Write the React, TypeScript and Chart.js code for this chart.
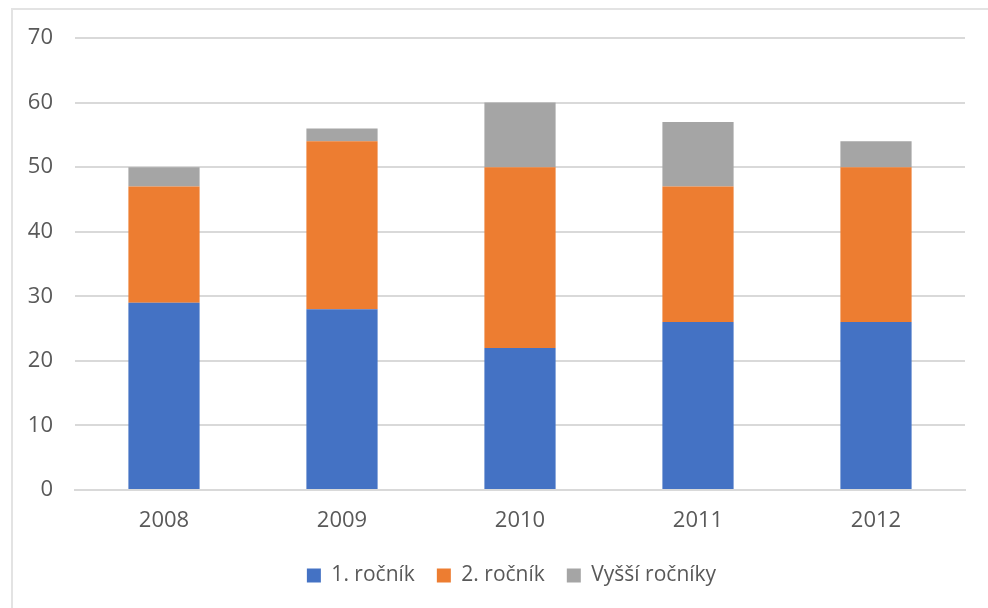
import React, { useEffect, useRef } from "react";
import { Chart, registerables } from "chart.js";

Chart.register(...registerables);

const categories = ["2008", "2009", "2010", "2011", "2012"];
const firstYear = [29, 28, 22, 26, 26];
const secondYear = [18, 26, 28, 21, 24];
const higherYears = [3, 2, 10, 10, 4];
const seriesNames = ["1. ročník", "2. ročník", "Vyšší ročníky"];
const seriesColors = ["#4472C4", "#ED7D31", "#A5A5A5"];

const FONT = "'Open Sans', 'Noto Sans', sans-serif";
const TEXT = "#595959";

const legendShift = {
  id: "legendShift",
  afterLayout(chart: any) {
    if (chart.legend) {
      chart.legend.left += 23;
      chart.legend.right += 23;
    }
  },
};

export default function App() {
  const ref = useRef<HTMLCanvasElement | null>(null);

  useEffect(() => {
    document.body.style.margin = "0";
    const canvas = ref.current;
    if (!canvas) return;
    const chart = new Chart(canvas, {
      type: "bar",
      data: {
        labels: categories,
        datasets: [firstYear, secondYear, higherYears].map((d, i) => ({
          label: seriesNames[i],
          data: d,
          backgroundColor: seriesColors[i],
          borderWidth: 0,
          categoryPercentage: 1,
          barPercentage: 0.4,
        })),
      },
      plugins: [legendShift],
      options: {
        animation: false,
        responsive: false,
        maintainAspectRatio: false,
        layout: { padding: { left: 12, right: 23, top: 38, bottom: 12 } },
        plugins: {
          tooltip: { enabled: false },
          legend: {
            position: "bottom",
            labels: {
              color: TEXT,
              font: { family: FONT, size: 21 },
              boxWidth: 14,
              boxHeight: 14,
              padding: 22,
            },
          },
        },
        scales: {
          x: {
            stacked: true,
            grid: { display: false, drawTicks: false },
            border: { display: true, color: "#D9D9D9", width: 2 },
            ticks: { color: TEXT, font: { family: FONT, size: 22 }, padding: 18 },
            afterFit: (s: any) => { s.height = 53; },
          },
          y: {
            stacked: true,
            min: 0,
            max: 70,
            ticks: { stepSize: 10, color: TEXT, font: { family: FONT, size: 22 }, padding: 22 },
            grid: { color: "#D9D9D9", lineWidth: 2, drawTicks: false },
            border: { display: false },
            afterFit: (s: any) => { s.width = 63; },
          },
        },
      },
    });
    return () => chart.destroy();
  }, []);

  return (
    <div style={{ position: "relative", width: 988, height: 608, overflow: "hidden", background: "#fff" }}>
      <div
        style={{
          position: "absolute",
          left: 11,
          top: 8,
          width: 1100,
          height: 800,
          border: "2px solid #E3E3E3",
          boxSizing: "border-box",
        }}
      />
      <canvas ref={ref} width={988} height={608} style={{ position: "absolute", left: 0, top: 0 }} />
    </div>
  );
}
